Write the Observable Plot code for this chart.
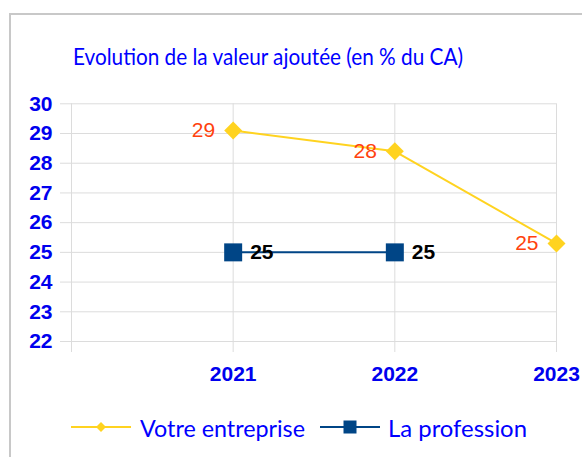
<!DOCTYPE html>
<html>
<head>
<meta charset="utf-8">
<script src="https://cdn.jsdelivr.net/npm/d3@7"></script>
<script src="https://cdn.jsdelivr.net/npm/@observablehq/plot@0.6"></script>
<style>
  html, body { margin: 0; padding: 0; background: #fff; }
  body { width: 582px; height: 457px; overflow: hidden; position: relative; }
  #frame { position: absolute; left: 9px; top: 13px; width: 620px; height: 500px; border: 2px solid #c8c8c8; box-sizing: border-box; }
  #overlay { position: absolute; left: 0; top: 0; }
  #chart { position: absolute; left: 0; top: 90px; }
</style>
</head>
<body>
<div id="frame"></div>
<div id="chart"></div>
<svg id="overlay" width="582" height="457"></svg>
<script>
// ---- data ----
const title = "Evolution de la valeur ajoutée (en % du CA)";
const years = [2021, 2022, 2023];
const seriesNames = ["Votre entreprise", "La profession"];
const votre = [29.1, 28.4, 25.3];
const votreLabels = ["29", "28", "25"];
const profession = [25, 25, null];
const professionLabels = ["25", "25", ""];
const yTicks = [22, 23, 24, 25, 26, 27, 28, 29, 30];
const xGridTicks = [2020, 2021, 2022, 2023];

// ---- styles ----
const yellow = "#ffd320";
const navy = "#004586";
const orange = "#ff420e";
const blue = "#0000ee";
const grid = "#dcdcdc";
const comic = "Lato, 'Open Sans', sans-serif";

const votreData = years.map((x, i) => ({x, y: votre[i], label: votreLabels[i]}));
const profData = years.map((x, i) => ({x, y: profession[i], label: professionLabels[i]})).filter(d => d.y != null);

const plot = Plot.plot({
  width: 582,
  height: 310,
  marginLeft: 71,
  marginRight: 26,
  marginTop: 13.3,
  marginBottom: 59,
  style: {fontFamily: "'Liberation Sans', Arial, sans-serif", background: "transparent"},
  x: {type: "linear", domain: [2020, 2023]},
  y: {domain: [22, 30]},
  marks: [
    Plot.gridY({ticks: yTicks, stroke: grid, strokeOpacity: 1}),
    Plot.gridX({ticks: xGridTicks, stroke: grid, strokeOpacity: 1}),
    Plot.axisY({ticks: yTicks, tickSize: 11, tickPadding: 8, stroke: grid, strokeOpacity: 1,
      fill: blue, fontSize: 21, fontWeight: "bold", label: null}),
    Plot.axisX({ticks: xGridTicks, tickSize: 11, tickPadding: 14, stroke: grid, strokeOpacity: 1,
      fill: blue, fontSize: 21, fontWeight: "bold", label: null,
      tickFormat: d => years.includes(d) ? d3.format("d")(d) : ""}),
    Plot.line(votreData, {x: "x", y: "y", stroke: yellow, strokeWidth: 2}),
    Plot.line(profData, {x: "x", y: "y", stroke: navy, strokeWidth: 2}),
    Plot.dot(votreData, {x: "x", y: "y", symbol: "diamond2", r: 8.1, fill: yellow, stroke: "none"}),
    Plot.dot(profData, {x: "x", y: "y", symbol: "square", r: 10.15, fill: navy, stroke: "none"}),
    Plot.text(votreData, {x: "x", y: "y", text: "label", dx: -18, textAnchor: "end", fill: orange, fontSize: 21}),
    Plot.text(profData, {x: "x", y: "y", text: "label", dx: 17, textAnchor: "start", fill: "#000", fontSize: 21, fontWeight: "bold"})
  ]
});
document.getElementById("chart").appendChild(plot);

// ---- title & legend ----
const svg = d3.select("#overlay");
svg.append("text")
  .attr("x", 73).attr("y", 65)
  .attr("textLength", 390).attr("lengthAdjust", "spacingAndGlyphs")
  .attr("font-family", comic).attr("font-size", 23).attr("fill", "#0000ff")
  .text(title);

const leg = [
  {name: seriesNames[0], color: yellow, x0: 71, x1: 131, tx: 140, tw: 165, sym: d3.symbolDiamond2, size: (5 / 0.62625) ** 2},
  {name: seriesNames[1], color: navy, x0: 320, x1: 380, tx: 388, tw: 139, sym: d3.symbolSquare, size: 13 * 13}
];
const ly = 427;
for (const l of leg) {
  svg.append("line").attr("x1", l.x0).attr("x2", l.x1).attr("y1", ly).attr("y2", ly)
    .attr("stroke", l.color).attr("stroke-width", 2);
  svg.append("path").attr("d", d3.symbol(l.sym, l.size)())
    .attr("transform", `translate(${(l.x0 + l.x1) / 2},${ly})`).attr("fill", l.color);
  svg.append("text").attr("x", l.tx).attr("y", ly + 10)
    .attr("textLength", l.tw).attr("lengthAdjust", "spacingAndGlyphs")
    .attr("font-family", comic).attr("font-size", 23).attr("fill", "#0000ff")
    .text(l.name);
}
</script>
</body>
</html>
